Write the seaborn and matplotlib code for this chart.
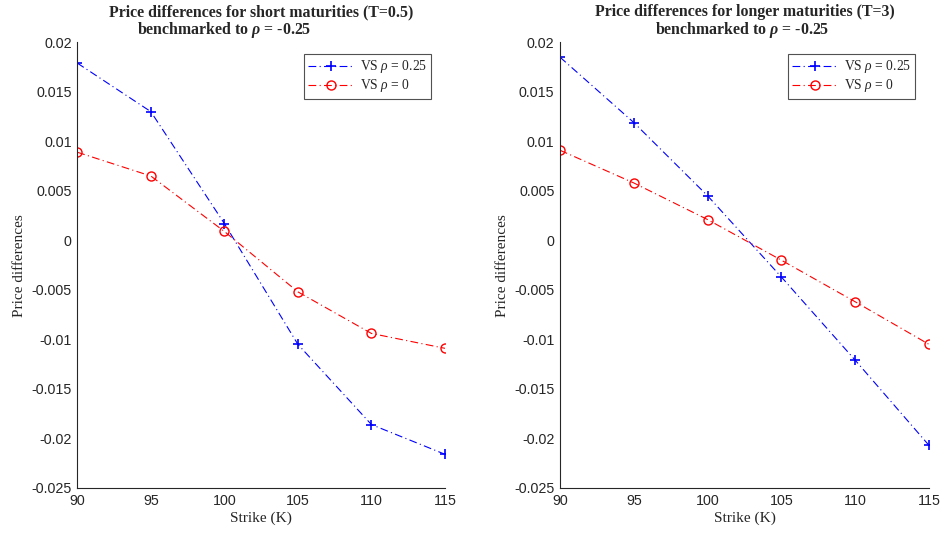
import matplotlib
matplotlib.use("Agg")
import matplotlib.pyplot as plt
import seaborn as sns
import pandas as pd

# Strikes and price differences (benchmark rho = -0.25)
strikes = [90, 95, 100, 105, 110, 115]

short_rho_025 = [0.0179, 0.0130, 0.0017, -0.0105, -0.0186, -0.0216]
short_rho_0 = [0.0089, 0.0065, 0.0009, -0.0052, -0.0094, -0.0109]

long_rho_025 = [0.0185, 0.0119, 0.0045, -0.0037, -0.0121, -0.0207]
long_rho_0 = [0.0091, 0.0058, 0.0021, -0.0020, -0.0062, -0.0105]

series_labels = [r"VS $\rho$ = 0.25", r"VS $\rho$ = 0"]

x_ticks = [90, 95, 100, 105, 110, 115]
y_ticks = [-0.025, -0.02, -0.015, -0.01, -0.005, 0, 0.005, 0.01, 0.015, 0.02]
y_tick_labels = ["-0.025", "-0.02", "-0.015", "-0.01", "-0.005", "0",
                 "0.005", "0.01", "0.015", "0.02"]

titles = [
    ("Price differences for short maturities (T=0.5)",
     r"benchmarked to $\mathbfit{\rho}$ = -0.25"),
    ("Price differences for longer maturities (T=3)",
     r"benchmarked to $\mathbfit{\rho}$ = -0.25"),
]

sns.set_style("white")
plt.rcParams["axes.unicode_minus"] = False
plt.rcParams["mathtext.fontset"] = "custom"
plt.rcParams["mathtext.rm"] = "Liberation Serif"
plt.rcParams["mathtext.it"] = "Liberation Serif:italic"
plt.rcParams["mathtext.bf"] = "Liberation Serif:bold"
plt.rcParams["mathtext.bfit"] = "Liberation Serif:italic:bold"
plt.rcParams["lines.dashdot_pattern"] = [7.0, 3.0, 1.0, 3.0]

fig = plt.figure(figsize=(9.4, 5.38), dpi=100)
bottom, top = 0.093, 0.9214
ax_l = fig.add_axes([0.0822, bottom, 0.3912, top - bottom])
ax_r = fig.add_axes([0.5957, bottom, 0.3926, top - bottom])

panels = [
    (ax_l, short_rho_025, short_rho_0, titles[0], 0.399),
    (ax_r, long_rho_025, long_rho_0, titles[1], 0.493),
]

serif = "Liberation Serif"
sans = "Liberation Sans"
axis_color = "#262626"
blue = (0, 0, 1)
red = (1, 0, 0)

for ax, s1, s2, (t1, t2), t2x in panels:
    df = pd.DataFrame({"K": strikes, "a": s1, "b": s2})
    sns.lineplot(data=df, x="K", y="a", ax=ax, color=blue,
                 linestyle="-.", linewidth=0.8, marker="+", markersize=7,
                 markeredgecolor=blue, markeredgewidth=1.2,
                 label=series_labels[0])
    sns.lineplot(data=df, x="K", y="b", ax=ax, color=red,
                 linestyle="-.", linewidth=0.8, marker="o", markersize=6.5,
                 markerfacecolor="none", markeredgecolor=red,
                 markeredgewidth=1.0, label=series_labels[1])

    ax.set_xlim(90, 115)
    ax.set_ylim(-0.025, 0.02)
    ax.set_xticks(x_ticks)
    ax.set_xticklabels([str(v) for v in x_ticks], fontfamily=sans, fontsize=10.3)
    ax.set_yticks(y_ticks)
    ax.set_yticklabels(y_tick_labels, fontfamily=sans, fontsize=10.3)
    ax.tick_params(direction="in", length=4, width=0.8, colors=axis_color,
                   pad=4, labelcolor="#262626")

    for side in ("top", "right"):
        ax.spines[side].set_visible(False)
    for side in ("left", "bottom"):
        ax.spines[side].set_color(axis_color)
        ax.spines[side].set_linewidth(0.8)

    ax.set_xlabel("Strike (K)", fontfamily=serif, fontsize=11, labelpad=3)
    ax.set_ylabel("Price differences", fontfamily=serif, fontsize=11, labelpad=4)

    ax.text(0.5, 1.067, t1, transform=ax.transAxes, ha="center", va="center",
            fontfamily=serif, fontweight="bold", fontsize=11.4)
    ax.text(t2x, 1.027, t2, transform=ax.transAxes, ha="center", va="center",
            fontfamily=serif, fontweight="bold", fontsize=11.4)

    leg = ax.legend(loc="upper right", bbox_to_anchor=(0.962, 0.973),
                    borderaxespad=0, prop={"family": serif, "size": 9.8},
                    handlelength=3.4, handletextpad=0.4, borderpad=0.3,
                    labelspacing=0.15, frameon=True, fancybox=False)
    leg.get_frame().set_edgecolor("#262626")
    leg.get_frame().set_linewidth(0.8)

fig.savefig("out.png", dpi=100)
